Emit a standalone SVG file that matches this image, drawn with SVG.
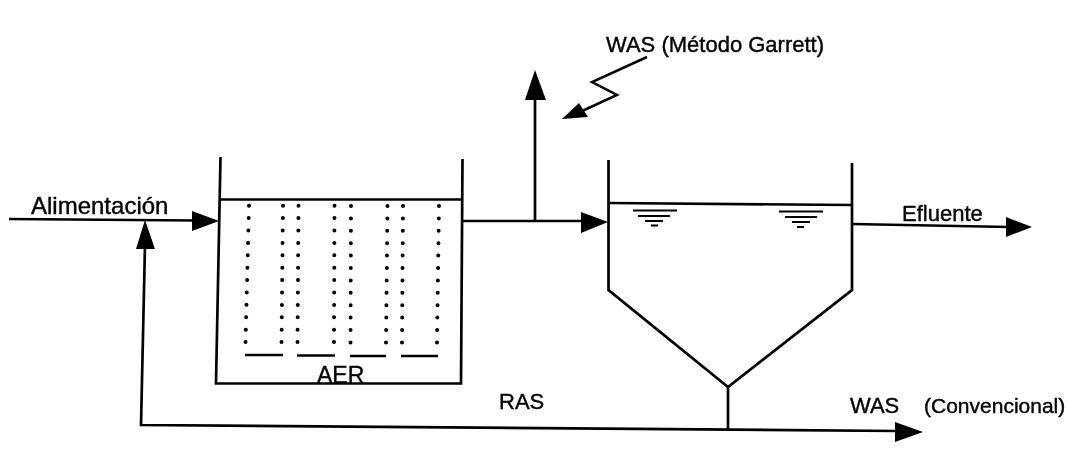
<svg xmlns="http://www.w3.org/2000/svg" width="1068" height="462" viewBox="0 0 1068 462">
<defs><filter id="scan" x="0" y="0" width="1068" height="462" filterUnits="userSpaceOnUse"><feGaussianBlur stdDeviation="0.45"/></filter></defs>
<style>
text{font-family:"Liberation Sans",Arial,sans-serif;fill:#000;stroke:#000;stroke-width:0.4;font-size:22px}
g{filter:url(#scan)}
g g{filter:none}
.l{fill:none;stroke:#000;stroke-width:2.7;stroke-linejoin:miter}
.t{fill:none;stroke:#000;stroke-width:2.5}
.d{fill:none;stroke:#000;stroke-width:4;stroke-linecap:round;stroke-dasharray:0 12.4}
.h{fill:#000;stroke:none}
.w{fill:none;stroke:#000;stroke-width:2.2}
</style>
<rect width="1068" height="462" fill="#fff"/>
<g>
<g id="connectors">
<path class="l" d="M9 219L195 220.500"/><polygon class="h" points="219,221 192,211 192,231"/>
<path class="l" d="M145 245L141 425L897 431"/><polygon class="h" points="145,220 136,249 155,249"/>
<polygon class="h" points="923,432 895,422 895,442"/>
<path class="l" d="M463 221H585"/><polygon class="h" points="608,222 581,212 581,233"/>
<path class="l" d="M535 221V98"/><polygon class="h" points="535,70 525,100 546,100"/>
<path class="l" d="M852 224L1009 227"/><polygon class="h" points="1032,227 1006,217 1006,237"/>
<path class="l" d="M728 387V430"/>
<path class="t" d="M647 57L592 82L617 95L580 112"/><polygon class="h" points="562,119 579,103 588,117"/>
</g>
<g id="aer">
<path class="l" d="M220.500 157L216 383.500H461L462.500 159"/>
<path class="l" d="M220 199.500H462"/>
<path class="d" d="M249 205.700L245.500 343"/>
<path class="d" d="M283 205.700L281.500 343"/>
<path class="d" d="M298.500 205.700L297.500 343"/>
<path class="d" d="M334.500 205.700L334 343"/>
<path class="d" d="M351 206L350.500 343"/>
<path class="d" d="M387.500 206L386 343"/>
<path class="d" d="M403 206L402 343"/>
<path class="d" d="M439 206L437 343"/>
<path class="t" d="M245 355H283M297 355.500H335M350 356H386M401 356H438"/>
<text x="317" y="383" style="font-size:23px">AER</text>
</g>
<g id="clarificador">
<path class="l" d="M608.500 160V290L728 387L852 290V163"/>
<path class="l" d="M609 203L852 205"/>
<path class="w" d="M633 210.500H677M638 216H670M645 221H663M651 225.500H658"/>
<path class="w" d="M779 211.500H823M785 217H817M792 222H810M797 227H804"/>
</g>
<g id="labels">
<text x="31" y="214" style="font-size:24px">Alimentación</text>
<text x="606" y="52">WAS (Método Garrett)</text>
<text x="902" y="221">Efluente</text>
<text x="499" y="409">RAS</text>
<text x="850" y="413">WAS</text>
<text x="924" y="413" style="font-size:21px">(Convencional)</text>
</g>
</g>
</svg>
